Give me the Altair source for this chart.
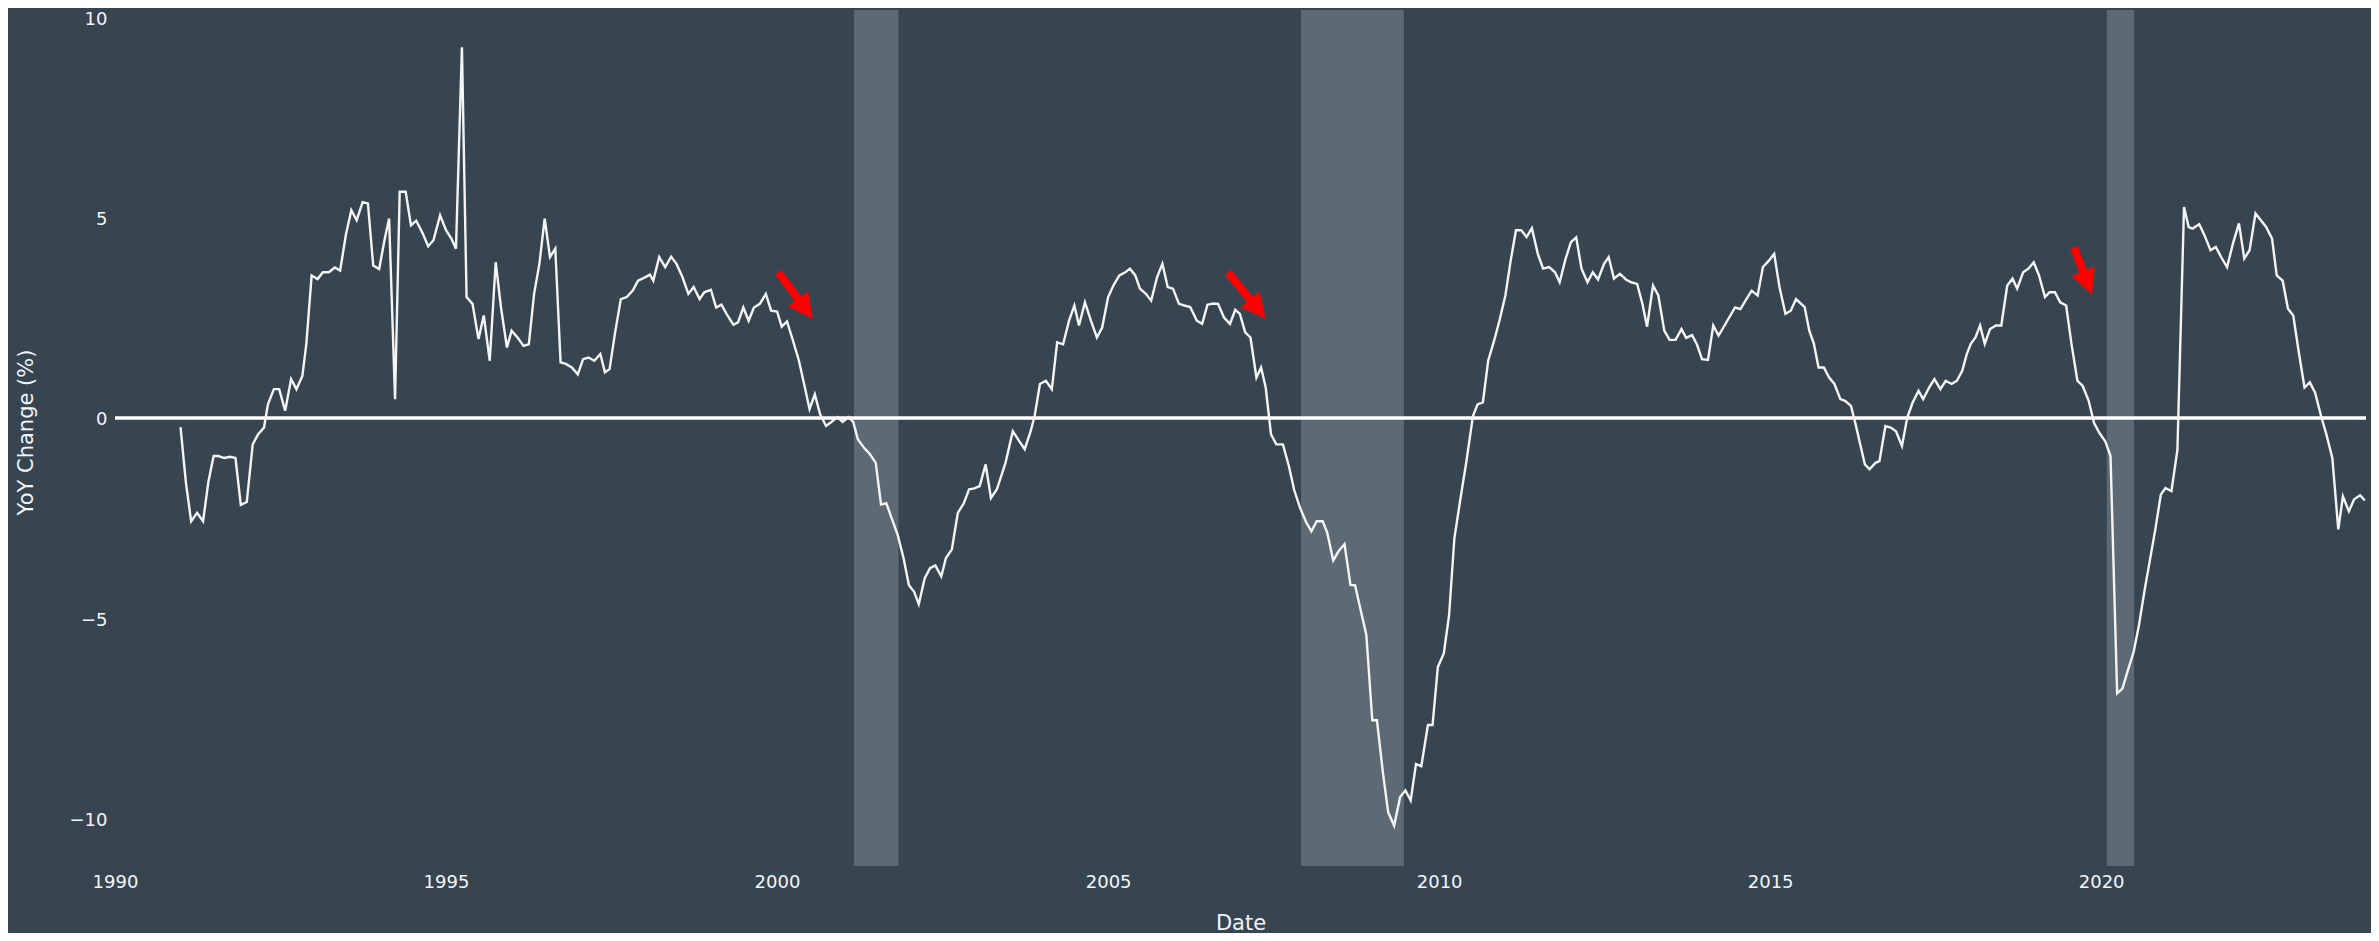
import math
import altair as alt
import pandas as pd

# ---------------- data ----------------
year_frac = [
    1990.99, 1991.07, 1991.15, 1991.24, 1991.33, 1991.41, 1991.49, 1991.56, 1991.65, 1991.74,
    1991.82, 1991.90, 1991.99, 1992.08, 1992.16, 1992.25, 1992.31, 1992.40, 1992.48, 1992.57,
    1992.66, 1992.74, 1992.83, 1992.89, 1992.97, 1993.06, 1993.14, 1993.23, 1993.32, 1993.40,
    1993.49, 1993.57, 1993.65, 1993.74, 1993.82, 1993.90, 1993.99, 1994.07, 1994.14, 1994.23,
    1994.30, 1994.39, 1994.47, 1994.55, 1994.65, 1994.73, 1994.81, 1994.91, 1995.00, 1995.08,
    1995.15, 1995.24, 1995.31, 1995.40, 1995.49, 1995.57, 1995.66, 1995.75, 1995.83, 1995.92,
    1995.99, 1996.08, 1996.17, 1996.25, 1996.33, 1996.41, 1996.49, 1996.57, 1996.65, 1996.73,
    1996.81, 1996.90, 1996.99, 1997.07, 1997.15, 1997.24, 1997.33, 1997.40, 1997.47, 1997.55,
    1997.64, 1997.73, 1997.82, 1997.90, 1997.99, 1998.08, 1998.13, 1998.22, 1998.31, 1998.40,
    1998.48, 1998.57, 1998.66, 1998.74, 1998.83, 1998.90, 1999.00, 1999.08, 1999.16, 1999.25,
    1999.34, 1999.41, 1999.49, 1999.57, 1999.65, 1999.74, 1999.83, 1999.91, 2000.00, 2000.07,
    2000.15, 2000.24, 2000.33, 2000.42, 2000.49, 2000.57, 2000.65, 2000.74, 2000.82, 2000.91,
    2000.99, 2001.08, 2001.15, 2001.22, 2001.31, 2001.40, 2001.49, 2001.57, 2001.65, 2001.73,
    2001.82, 2001.91, 2001.99, 2002.07, 2002.14, 2002.23, 2002.31, 2002.39, 2002.48, 2002.55,
    2002.64, 2002.73, 2002.82, 2002.90, 2002.98, 2003.06, 2003.15, 2003.23, 2003.32, 2003.45,
    2003.56, 2003.65, 2003.74, 2003.83, 2003.89, 2003.97, 2004.06, 2004.15, 2004.23, 2004.32,
    2004.41, 2004.49, 2004.56, 2004.65, 2004.74, 2004.83, 2004.91, 2005.00, 2005.08, 2005.17,
    2005.26, 2005.33, 2005.41, 2005.48, 2005.57, 2005.65, 2005.74, 2005.82, 2005.90, 2005.98,
    2006.07, 2006.15, 2006.24, 2006.34, 2006.42, 2006.50, 2006.59, 2006.66, 2006.75, 2006.84,
    2006.92, 2006.99, 2007.07, 2007.15, 2007.24, 2007.31, 2007.38, 2007.46, 2007.54, 2007.64,
    2007.73, 2007.81, 2007.90, 2007.99, 2008.07, 2008.15, 2008.24, 2008.31, 2008.40, 2008.48,
    2008.57, 2008.66, 2008.73, 2008.82, 2008.90, 2008.99, 2009.06, 2009.15, 2009.23, 2009.32,
    2009.41, 2009.49, 2009.57, 2009.65, 2009.73, 2009.83, 2009.90, 2009.98, 2010.07, 2010.15,
    2010.23, 2010.32, 2010.41, 2010.51, 2010.58, 2010.66, 2010.74, 2010.83, 2010.91, 2011.00,
    2011.08, 2011.16, 2011.24, 2011.32, 2011.40, 2011.49, 2011.57, 2011.66, 2011.75, 2011.82,
    2011.91, 2011.99, 2012.07, 2012.15, 2012.24, 2012.32, 2012.40, 2012.49, 2012.56, 2012.64,
    2012.73, 2012.82, 2012.90, 2012.99, 2013.07, 2013.14, 2013.23, 2013.31, 2013.40, 2013.48,
    2013.57, 2013.66, 2013.73, 2013.82, 2013.89, 2013.97, 2014.06, 2014.14, 2014.22, 2014.31,
    2014.38, 2014.47, 2014.55, 2014.64, 2014.72, 2014.81, 2014.89, 2014.98, 2015.06, 2015.14,
    2015.23, 2015.31, 2015.39, 2015.52, 2015.59, 2015.66, 2015.73, 2015.81, 2015.89, 2015.97,
    2016.06, 2016.13, 2016.22, 2016.29, 2016.36, 2016.43, 2016.50, 2016.59, 2016.65, 2016.74,
    2016.82, 2016.90, 2016.99, 2017.07, 2017.15, 2017.24, 2017.31, 2017.40, 2017.48, 2017.57,
    2017.65, 2017.74, 2017.82, 2017.90, 2017.97, 2018.03, 2018.10, 2018.17, 2018.24, 2018.32,
    2018.41, 2018.49, 2018.58, 2018.66, 2018.73, 2018.82, 2018.90, 2018.98, 2019.06, 2019.15,
    2019.22, 2019.30, 2019.38, 2019.47, 2019.55, 2019.64, 2019.72, 2019.81, 2019.89, 2019.97,
    2020.06, 2020.14, 2020.24, 2020.32, 2020.41, 2020.49, 2020.57, 2020.66, 2020.74, 2020.82,
    2020.90, 2020.97, 2021.06, 2021.15, 2021.25, 2021.32, 2021.38, 2021.48, 2021.56, 2021.65,
    2021.73, 2021.81, 2021.90, 2021.99, 2022.08, 2022.16, 2022.24, 2022.33, 2022.41, 2022.49,
    2022.58, 2022.65, 2022.74, 2022.82, 2022.90, 2022.98, 2023.07, 2023.15, 2023.23, 2023.32,
    2023.40, 2023.49, 2023.58, 2023.65, 2023.74, 2023.82, 2023.91, 2023.98,
]

yoy = [
    -0.23, -1.60, -2.58, -2.37, -2.58, -1.60, -0.95, -0.95, -1.00, -0.97,
    -1.00, -2.17, -2.10, -0.66, -0.41, -0.24, 0.34, 0.72, 0.72, 0.18,
    0.97, 0.72, 1.05, 1.85, 3.56, 3.47, 3.64, 3.64, 3.76, 3.68,
    4.60, 5.19, 4.94, 5.39, 5.36, 3.81, 3.72, 4.44, 4.98, 0.47,
    5.65, 5.65, 4.81, 4.93, 4.60, 4.29, 4.44, 5.06, 4.69, 4.48,
    4.23, 9.26, 3.02, 2.85, 1.97, 2.56, 1.43, 3.89, 2.76, 1.76,
    2.18, 2.01, 1.80, 1.84, 3.10, 3.85, 4.98, 4.02, 4.23, 1.39,
    1.35, 1.26, 1.09, 1.47, 1.51, 1.43, 1.60, 1.14, 1.22, 2.10,
    2.97, 3.02, 3.18, 3.43, 3.50, 3.58, 3.43, 4.02, 3.77, 4.03,
    3.85, 3.52, 3.10, 3.27, 2.97, 3.14, 3.20, 2.76, 2.83, 2.56,
    2.33, 2.39, 2.76, 2.43, 2.76, 2.85, 3.10, 2.68, 2.66, 2.28,
    2.41, 1.93, 1.43, 0.76, 0.22, 0.59, 0.09, -0.20, -0.10, 0.02,
    -0.10, 0.02, -0.10, -0.53, -0.74, -0.90, -1.12, -2.16, -2.13, -2.50,
    -2.91, -3.50, -4.17, -4.34, -4.65, -4.00, -3.75, -3.68, -3.96, -3.50,
    -3.28, -2.37, -2.13, -1.78, -1.76, -1.70, -1.16, -2.00, -1.78, -1.12,
    -0.33, -0.56, -0.78, -0.33, 0.05, 0.85, 0.93, 0.72, 1.89, 1.84,
    2.43, 2.81, 2.31, 2.89, 2.43, 2.01, 2.26, 3.02, 3.31, 3.56,
    3.64, 3.73, 3.56, 3.23, 3.10, 2.93, 3.52, 3.85, 3.27, 3.23,
    2.85, 2.81, 2.77, 2.43, 2.35, 2.83, 2.86, 2.85, 2.51, 2.35,
    2.70, 2.60, 2.14, 2.01, 1.01, 1.26, 0.76, -0.41, -0.66, -0.66,
    -1.20, -1.80, -2.25, -2.60, -2.83, -2.58, -2.58, -2.87, -3.56, -3.33,
    -3.15, -4.17, -4.18, -4.84, -5.42, -7.55, -7.55, -8.85, -9.85, -10.18,
    -9.47, -9.30, -9.55, -8.64, -8.70, -7.67, -7.67, -6.22, -5.88, -4.92,
    -3.00, -2.03, -1.10, 0.05, 0.34, 0.39, 1.43, 1.93, 2.43, 3.06,
    3.93, 4.69, 4.69, 4.52, 4.74, 4.10, 3.73, 3.77, 3.64, 3.39,
    3.98, 4.39, 4.51, 3.73, 3.39, 3.64, 3.46, 3.85, 4.02, 3.48,
    3.60, 3.46, 3.39, 3.35, 2.85, 2.28, 3.31, 3.06, 2.18, 1.95,
    1.95, 2.22, 2.00, 2.07, 1.85, 1.47, 1.45, 2.31, 2.06, 2.31,
    2.51, 2.76, 2.72, 2.97, 3.18, 3.06, 3.77, 3.93, 4.10, 3.27,
    2.60, 2.68, 2.97, 2.77, 2.18, 1.85, 1.26, 1.26, 1.01, 0.85,
    0.47, 0.43, 0.30, -0.16, -0.66, -1.16, -1.28, -1.12, -1.08, -0.20,
    -0.24, -0.33, -0.70, 0.01, 0.38, 0.68, 0.47, 0.76, 0.97, 0.72,
    0.93, 0.85, 0.93, 1.18, 1.60, 1.85, 2.01, 2.31, 1.85, 2.22,
    2.31, 2.31, 3.31, 3.48, 3.23, 3.64, 3.73, 3.89, 3.56, 3.02,
    3.14, 3.14, 2.89, 2.81, 1.85, 0.93, 0.80, 0.43, -0.12, -0.37,
    -0.58, -0.95, -6.88, -6.76, -6.26, -5.84, -5.17, -4.25, -3.50, -2.75,
    -1.91, -1.75, -1.83, -0.80, 5.27, 4.77, 4.73, 4.84, 4.56, 4.19,
    4.27, 4.02, 3.77, 4.36, 4.86, 3.98, 4.19, 5.11, 4.94, 4.77,
    4.48, 3.56, 3.43, 2.73, 2.56, 1.68, 0.76, 0.89, 0.63, 0.05,
    -0.41, -1.00, -2.78, -1.96, -2.33, -2.03, -1.93, -2.06,
]

# recession shading
rec_start = ["2001-03-01", "2007-12-01", "2020-02-01"]
rec_end = ["2001-11-01", "2009-06-20", "2020-07-01"]

# red annotation arrows (tail -> tip), in data units
arrow_tail_year = [2000.02, 2006.81, 2019.59]
arrow_tail_val = [3.64, 3.64, 4.26]
arrow_tip_year = [2000.54, 2007.38, 2019.86]
arrow_tip_val = [2.47, 2.48, 3.08]

x_ticks = [1990, 1995, 2000, 2005, 2010, 2015, 2020]
y_ticks = [-10, -5, 0, 5, 10]

# ---------------- layout ----------------
W, H = 2251, 856
X0, X1 = 1990.0, 2024.0
Y0, Y1 = -11.19, 10.19
BG = "#374551"
TXT = "#f2f5fa"
FONT = "DejaVu Sans"


def to_ts(yf):
    base = pd.Timestamp("1990-01-01")
    return base + pd.to_timedelta((yf - 1990.0) * 365.25, unit="D")


df = pd.DataFrame({"date": [to_ts(v) for v in year_frac], "yoy": yoy})
rec = pd.DataFrame({"start": pd.to_datetime(rec_start), "end": pd.to_datetime(rec_end)})

px_per_year = W / (X1 - X0)
px_per_unit = H / (Y1 - Y0)
rows = []
for ty, tv, hy, hv in zip(arrow_tail_year, arrow_tail_val, arrow_tip_year, arrow_tip_val):
    dx = (hy - ty) * px_per_year
    dy = (tv - hv) * px_per_unit  # screen y grows downward
    L = math.hypot(dx, dy)
    f = 1 - 20.0 / L
    ang = (-math.degrees(math.atan2(dx, dy))) % 360
    rows.append({
        "t": to_ts(ty), "tv": tv,
        "e": to_ts(ty + (hy - ty) * f), "ev": tv + (hv - tv) * f,
        "h": to_ts(hy), "hv": hv, "ang": ang,
    })
arr = pd.DataFrame(rows)

xdom = [alt.DateTime(year=1990, month=1, date=1), alt.DateTime(year=2024, month=1, date=1)]
xscale = alt.Scale(domain=xdom)
yscale = alt.Scale(domain=[Y0, Y1], nice=False, zero=False)

x_axis = alt.Axis(
    title="Date", format="%Y",
    values=[alt.DateTime(year=y, month=1, date=1) for y in x_ticks],
    grid=False, domain=False, ticks=False, tickSize=0,
    labelFont=FONT, labelFontSize=18, labelColor=TXT, labelPadding=7,
    labelFlush=False, labelOverlap=False,
    titleFont=FONT, titleFontSize=21, titleColor=TXT, titleFontWeight="normal",
    titleY=57, titleBaseline="middle",
)
y_axis = alt.Axis(
    title="YoY Change (%)", values=y_ticks, format="d",
    grid=False, domain=False, ticks=False, tickSize=0,
    labelFont=FONT, labelFontSize=18, labelColor=TXT, labelPadding=8,
    labelOffset=2, labelFlush=False, labelOverlap=False,
    titleFont=FONT, titleFontSize=21, titleColor=TXT, titleFontWeight="normal",
    titleX=-89, titleY=422, titleAngle=270, titleAlign="center", titleBaseline="middle",
)

bands = alt.Chart(rec).mark_rect(color="#5d6a74", opacity=1).encode(
    x=alt.X("start:T", scale=xscale, axis=x_axis),
    x2="end:T",
)

zero = alt.Chart(pd.DataFrame({"z": [0]})).mark_rule(color="#ffffff", strokeWidth=3.5).encode(
    y=alt.Y("z:Q", scale=yscale, axis=y_axis),
)

line = alt.Chart(df).mark_line(color="#f4f4f4", strokeWidth=2.4).encode(
    x=alt.X("date:T", scale=xscale, axis=x_axis),
    y=alt.Y("yoy:Q", scale=yscale, axis=y_axis),
)

shafts = alt.Chart(arr).mark_rule(color="#ff0000", strokeWidth=8).encode(
    x=alt.X("t:T", scale=xscale), x2="e:T",
    y=alt.Y("tv:Q", scale=yscale), y2="ev:Q",
)

heads = alt.Chart(arr).mark_point(
    shape="M0,0L-0.5,-1L0.5,-1Z", filled=True, color="#ff0000", opacity=1,
    size=2500, strokeWidth=0,
).encode(
    x=alt.X("h:T", scale=xscale),
    y=alt.Y("hv:Q", scale=yscale),
    angle=alt.Angle("ang:Q", scale=None),
)

chart = alt.layer(bands, zero, line, shafts, heads).properties(
    width=W, height=H,
    background=BG,
    autosize=alt.AutoSizeParams(type="none"),
    padding={"left": 107, "top": 2, "right": 5, "bottom": 67},
).configure_view(stroke=None, fill=BG)

chart.save("out.html", embed_options={"renderer": "svg", "actions": False})
